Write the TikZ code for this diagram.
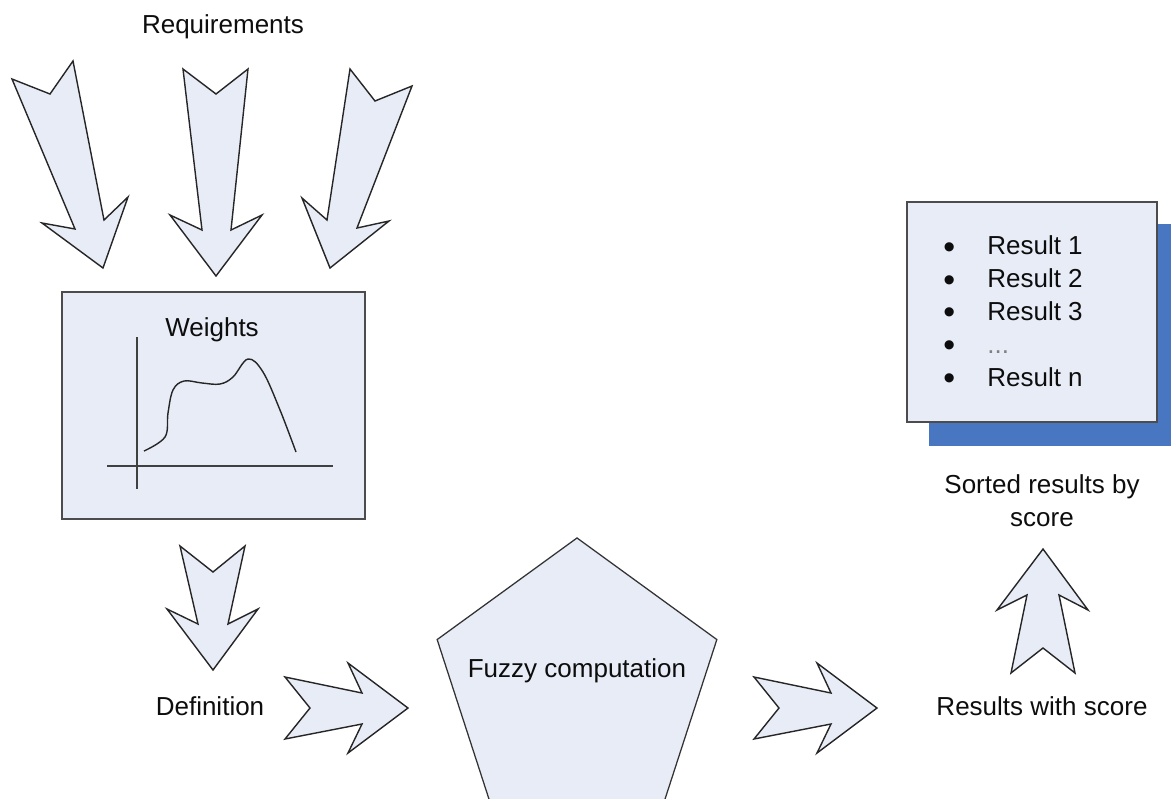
\documentclass[tikz,border=0pt]{standalone}
\usepackage{fontspec}
\setmainfont{Liberation Sans}
\usepackage{xcolor}
\usepackage{tikz}
\usetikzlibrary{shapes.geometric, positioning, calc}
\definecolor{panelfill}{RGB}{232,236,246}
\definecolor{shadowblue}{RGB}{72,118,192}
\newcommand{\listdot}{\makebox[1.1cm][l]{\fontsize{24}{23.4}\selectfont\raisebox{-2.5pt}{\textbullet}}}

\begin{document}
\begin{tikzpicture}[
    x=0.025cm, y=-0.025cm,
    font=\fontsize{18.5}{23.4}\selectfont,
    txt/.style={inner sep=0pt, text=black!95},
    panel/.style={draw=black!70, line width=1.3pt, fill=panelfill, inner sep=0pt},
    shadowbox/.style={fill=shadowblue, inner sep=0pt},
    pentagon/.style={draw=black!80, line width=0.9pt, fill=panelfill, regular polygon,
      regular polygon sides=5, minimum size=7.35cm, inner sep=0pt},
    fatarrow/.style={draw=black!85, line width=1pt, fill=panelfill, line join=miter},
    axis/.style={draw=black!75, line width=1.2pt},
    curve/.style={draw=black!85, line width=1pt}
]
\useasboundingbox (0,0) rectangle (1171,798);
\clip (0,0) rectangle (1171,798);

\node[txt, anchor=base] (req) at (223,33) {Requirements};
\node[panel, minimum width=7.575cm, minimum height=5.675cm] (weights) at (213.5,405.5) {};
\node[txt, anchor=base] (weightslbl) at (212,336) {Weights};
\node[txt, anchor=base] (defn) at (210,715) {Definition};
\node[pentagon] (fuzzy) at (577,685) {};
\node[txt, anchor=base] (fuzzylbl) at (577,677) {Fuzzy computation};
\node[txt, anchor=base] (scored) at (1042,715) {Results with score};
\node[txt, anchor=north, align=center] (sorted) at (1042,474.5) {Sorted results by\\score};
\node[shadowbox, minimum width=6.25cm, minimum height=5.55cm] (resshadow) at (1054,335) {};
\node[panel, minimum width=6.25cm, minimum height=5.5cm] (results) at (1032,312) {};
\node[txt, anchor=north west, align=left] (list) at (943,235.5) {%
  \listdot Result 1\\
  \listdot Result 2\\
  \listdot Result 3\\
  \listdot {\color{black!50}...}\\
  \listdot Result n};

\draw[axis] (137,337) -- (137,489);
\draw[axis] (107,466) -- (333,466);
\draw[curve] plot[smooth, tension=0.6] coordinates {(144,451) (165,437) (168,413) (173,390)
  (184,381) (202,383) (220,384) (233,377) (248,359) (263,372) (280,410) (296,452)};

\draw[fatarrow] (12,79) -- (50,94) -- (73,61) -- (104,220) -- (128,197) -- (103,268)
  -- (42,223) -- (75,229) -- cycle;
\draw[fatarrow] (183,69) -- (216,94) -- (248,69) -- (231,230) -- (262,215) -- (216,276)
  -- (170,215) -- (202,230) -- cycle;
\draw[fatarrow] (350,69) -- (375,101) -- (412,86) -- (357,228) -- (389,221) -- (330,268)
  -- (302,198) -- (327,220) -- cycle;
\draw[fatarrow] (180,546) -- (213,572) -- (245,546) -- (228,624) -- (258,609) -- (213,670)
  -- (167,609) -- (198,624) -- cycle;
\draw[fatarrow] (285,677) -- (362,693) -- (348,663) -- (408,708) -- (348,753) -- (362,724)
  -- (285,739) -- (310,708) -- cycle;
\draw[fatarrow] (754,677) -- (831,693) -- (817,663) -- (877,708) -- (817,753) -- (831,724)
  -- (754,739) -- (779,708) -- cycle;
\draw[fatarrow] (1043,549) -- (1088,610) -- (1059,595) -- (1075,673) -- (1043,648)
  -- (1011,673) -- (1027,595) -- (997,610) -- cycle;
\end{tikzpicture}
\end{document}
